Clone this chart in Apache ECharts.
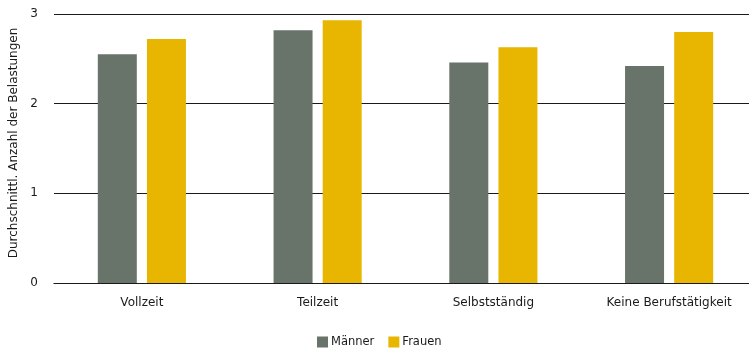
<!DOCTYPE html>
<html>
<head>
<meta charset="utf-8">
<script src="https://cdn.jsdelivr.net/npm/echarts@6/dist/echarts.min.js"></script>
<style>
  html, body { margin: 0; padding: 0; background: #fff; }
  #chart { width: 749px; height: 348px; }
</style>
</head>
<body>
<div id="chart"></div>
<script>
// Durchschnittliche Anzahl der Belastungen nach Erwerbsstatus
const categories = ['Vollzeit', 'Teilzeit', 'Selbstständig', 'Keine Berufstätigkeit'];
const maenner = [2.55, 2.82, 2.46, 2.42];
const frauen = [2.72, 2.93, 2.63, 2.80];
const yTicks = [0, 1, 2, 3];

const font = 'DejaVu Sans';
const ink = '#1a1a1a';
const chart = echarts.init(document.getElementById('chart'));
chart.setOption({
  animation: false,
  textStyle: { fontFamily: font },
  grid: { left: 54, top: 14, width: 703, height: 269, containLabel: false, outerBoundsMode: 'none' },
  legend: {
    top: 331,
    left: 312,
    itemWidth: 11,
    itemHeight: 11,
    itemGap: 14,
    icon: 'rect',
    textStyle: { fontFamily: font, fontSize: 11.5, color: ink, padding: [0, 0, 0, -2] },
    data: ['Männer', 'Frauen']
  },
  xAxis: {
    type: 'category',
    data: categories,
    axisLine: { show: true, lineStyle: { color: ink, width: 1.2 } },
    axisTick: { show: false },
    axisLabel: { fontFamily: font, fontSize: 12, color: ink, margin: 14 }
  },
  yAxis: {
    type: 'value',
    min: yTicks[0],
    max: yTicks[yTicks.length - 1],
    interval: 1,
    name: 'Durchschnittl. Anzahl der Belastungen',
    nameLocation: 'middle',
    nameRotate: 90,
    nameGap: 33,
    nameTextStyle: { fontFamily: font, fontSize: 12, color: ink, padding: [0, 0, 0, 11] },
    axisLine: { show: false },
    axisTick: { show: false },
    axisLabel: { fontFamily: font, fontSize: 12, color: ink, margin: 16 },
    splitLine: { show: true, lineStyle: { color: ink, width: 1.2 } }
  },
  series: [
    {
      name: 'Männer',
      type: 'bar',
      data: maenner,
      barWidth: 39,
      barGap: '26%',
      itemStyle: { color: '#68736a' }
    },
    {
      name: 'Frauen',
      type: 'bar',
      data: frauen,
      barWidth: 39,
      itemStyle: { color: '#e8b500' }
    }
  ]
});
</script>
</body>
</html>
